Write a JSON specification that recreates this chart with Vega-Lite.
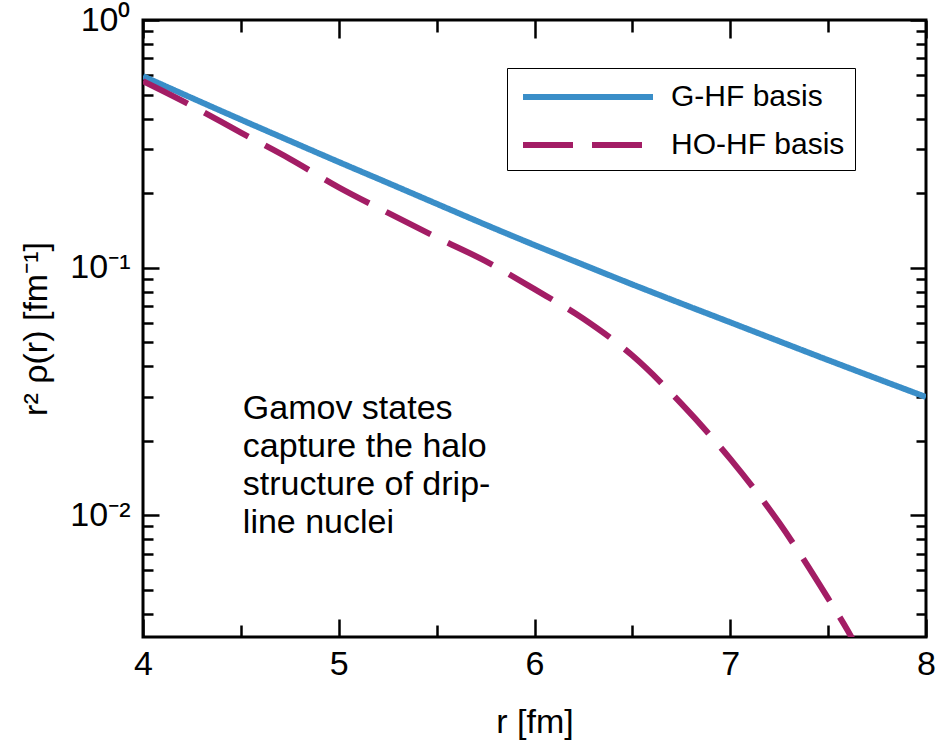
{
  "$schema": "https://vega.github.io/schema/vega-lite/v6.json",
  "width": 783,
  "height": 617,
  "autosize": "none",
  "padding": {"left": 143, "top": 20, "right": 18, "bottom": 110},
  "config": {
    "font": "Liberation Sans",
    "view": {"stroke": "black", "strokeWidth": 3},
    "axis": {
      "domain": false,
      "grid": false,
      "tickColor": "black",
      "tickWidth": 2.5,
      "labelColor": "black",
      "titleColor": "black",
      "labelFont": "Liberation Sans",
      "titleFont": "Liberation Sans",
      "labelFontSize": 34,
      "titleFontSize": 34,
      "titleFontWeight": "normal"
    }
  },
  "datasets": {
    "curves": [
      {"r": 4.0, "rho": 0.593, "basis": "G-HF basis"},
      {"r": 4.25, "rho": 0.484, "basis": "G-HF basis"},
      {"r": 4.5, "rho": 0.396, "basis": "G-HF basis"},
      {"r": 4.75, "rho": 0.325, "basis": "G-HF basis"},
      {"r": 5.0, "rho": 0.267, "basis": "G-HF basis"},
      {"r": 5.25, "rho": 0.22, "basis": "G-HF basis"},
      {"r": 5.5, "rho": 0.181, "basis": "G-HF basis"},
      {"r": 5.75, "rho": 0.149, "basis": "G-HF basis"},
      {"r": 6.0, "rho": 0.1233, "basis": "G-HF basis"},
      {"r": 6.25, "rho": 0.1026, "basis": "G-HF basis"},
      {"r": 6.5, "rho": 0.0855, "basis": "G-HF basis"},
      {"r": 6.75, "rho": 0.0716, "basis": "G-HF basis"},
      {"r": 7.0, "rho": 0.0601, "basis": "G-HF basis"},
      {"r": 7.25, "rho": 0.0504, "basis": "G-HF basis"},
      {"r": 7.5, "rho": 0.0423, "basis": "G-HF basis"},
      {"r": 7.75, "rho": 0.0356, "basis": "G-HF basis"},
      {"r": 8.0, "rho": 0.03, "basis": "G-HF basis"},
      {"r": 4.0, "rho": 0.566, "basis": "HO-HF basis"},
      {"r": 4.25, "rho": 0.45, "basis": "HO-HF basis"},
      {"r": 4.5, "rho": 0.351, "basis": "HO-HF basis"},
      {"r": 4.75, "rho": 0.275, "basis": "HO-HF basis"},
      {"r": 5.0, "rho": 0.211, "basis": "HO-HF basis"},
      {"r": 5.25, "rho": 0.1667, "basis": "HO-HF basis"},
      {"r": 5.5, "rho": 0.1324, "basis": "HO-HF basis"},
      {"r": 5.75, "rho": 0.1062, "basis": "HO-HF basis"},
      {"r": 6.0, "rho": 0.0818, "basis": "HO-HF basis"},
      {"r": 6.25, "rho": 0.0621, "basis": "HO-HF basis"},
      {"r": 6.5, "rho": 0.0441, "basis": "HO-HF basis"},
      {"r": 6.75, "rho": 0.0282, "basis": "HO-HF basis"},
      {"r": 7.0, "rho": 0.01687, "basis": "HO-HF basis"},
      {"r": 7.25, "rho": 0.00931, "basis": "HO-HF basis"},
      {"r": 7.5, "rho": 0.00461, "basis": "HO-HF basis"},
      {"r": 7.6, "rho": 0.00342, "basis": "HO-HF basis"},
      {"r": 7.65, "rho": 0.0029, "basis": "HO-HF basis"}
    ]
  },
  "resolve": {"axis": {"x": "independent", "y": "independent"}},
  "layer": [
    {
      "data": {"name": "curves"},
      "mark": {"type": "line", "strokeWidth": 6, "clip": true, "interpolate": "monotone"},
      "encoding": {
        "x": {
          "field": "r", "type": "quantitative",
          "scale": {"domain": [4, 8], "nice": false, "zero": false},
          "axis": {"orient": "bottom", "values": [4, 5, 6, 7, 8], "tickSize": -18, "labelPadding": 28, "title": "r [fm]", "titlePadding": 24, "labelFlush": false}
        },
        "y": {
          "field": "rho", "type": "quantitative",
          "scale": {"type": "log", "domain": [0.00322, 1], "nice": false},
          "axis": {"orient": "left", "values": [0.01, 0.1, 1], "tickSize": -16, "labelPadding": 29,
            "labelExpr": "datum.value == 1 ? '10⁰' : datum.value == 0.1 ? '10⁻¹' : '10⁻²'",
            "title": "r² ρ(r) [fm⁻¹]", "titlePadding": 16, "labelFlush": false}
        },
        "color": {
          "field": "basis", "type": "nominal",
          "scale": {"domain": ["G-HF basis", "HO-HF basis"], "range": ["#3a8ec8", "#a31d65"]},
          "legend": {
            "orient": "none", "legendX": 364, "legendY": 48, "title": null,
            "symbolType": "M-4.0625,0H4.0625", "symbolSize": 1024, "symbolStrokeWidth": 6,
            "symbolOffset": 52, "labelOffset": 64, "labelFontSize": 30, "labelFont": "Liberation Sans",
            "labelLimit": 0, "labelColor": "black", "padding": 10, "rowPadding": 14,
            "strokeColor": "black", "fillColor": "white", "symbolFillColor": "transparent"
          }
        },
        "strokeDash": {
          "field": "basis", "type": "nominal",
          "scale": {"domain": ["G-HF basis", "HO-HF basis"], "range": [[1, 0], [50, 19]]}
        }
      }
    },
    {
      "data": {"name": "curves"},
      "mark": {"type": "line", "opacity": 0, "clip": true},
      "encoding": {
        "x": {"field": "r", "type": "quantitative",
          "axis": {"orient": "bottom", "values": [4.5, 5.5, 6.5, 7.5], "tickSize": -12, "labels": false, "title": null}},
        "y": {"field": "rho", "type": "quantitative",
          "axis": {"orient": "left", "values": [0.004, 0.005, 0.006, 0.007, 0.008, 0.009, 0.02, 0.03, 0.04, 0.05, 0.06, 0.07, 0.08, 0.09, 0.2, 0.3, 0.4, 0.5, 0.6, 0.7, 0.8, 0.9], "tickSize": -10, "labels": false, "title": null}},
        "detail": {"field": "basis"}
      }
    },
    {
      "data": {"name": "curves"},
      "mark": {"type": "line", "opacity": 0, "clip": true},
      "encoding": {
        "x": {"field": "r", "type": "quantitative",
          "axis": {"orient": "top", "values": [4, 5, 6, 7, 8], "tickSize": -18, "labels": false, "title": null}},
        "y": {"field": "rho", "type": "quantitative",
          "axis": {"orient": "right", "values": [0.01, 0.1, 1], "tickSize": -16, "labels": false, "title": null}},
        "detail": {"field": "basis"}
      }
    },
    {
      "data": {"name": "curves"},
      "mark": {"type": "line", "opacity": 0, "clip": true},
      "encoding": {
        "x": {"field": "r", "type": "quantitative",
          "axis": {"orient": "top", "values": [4.5, 5.5, 6.5, 7.5], "tickSize": -12, "labels": false, "title": null}},
        "y": {"field": "rho", "type": "quantitative",
          "axis": {"orient": "right", "values": [0.004, 0.005, 0.006, 0.007, 0.008, 0.009, 0.02, 0.03, 0.04, 0.05, 0.06, 0.07, 0.08, 0.09, 0.2, 0.3, 0.4, 0.5, 0.6, 0.7, 0.8, 0.9], "tickSize": -10, "labels": false, "title": null}},
        "detail": {"field": "basis"}
      }
    },
    {
      "data": {"values": [{"note": "Gamov states\ncapture the halo\nstructure of drip-\nline nuclei"}]},
      "mark": {"type": "text", "align": "left", "baseline": "alphabetic", "lineBreak": "\n", "fontSize": 34, "lineHeight": 38, "font": "Liberation Sans", "color": "black"},
      "encoding": {
        "x": {"datum": 4.51, "type": "quantitative", "axis": null},
        "y": {"datum": 0.0245, "type": "quantitative", "axis": null},
        "text": {"field": "note"}
      }
    }
  ]
}
